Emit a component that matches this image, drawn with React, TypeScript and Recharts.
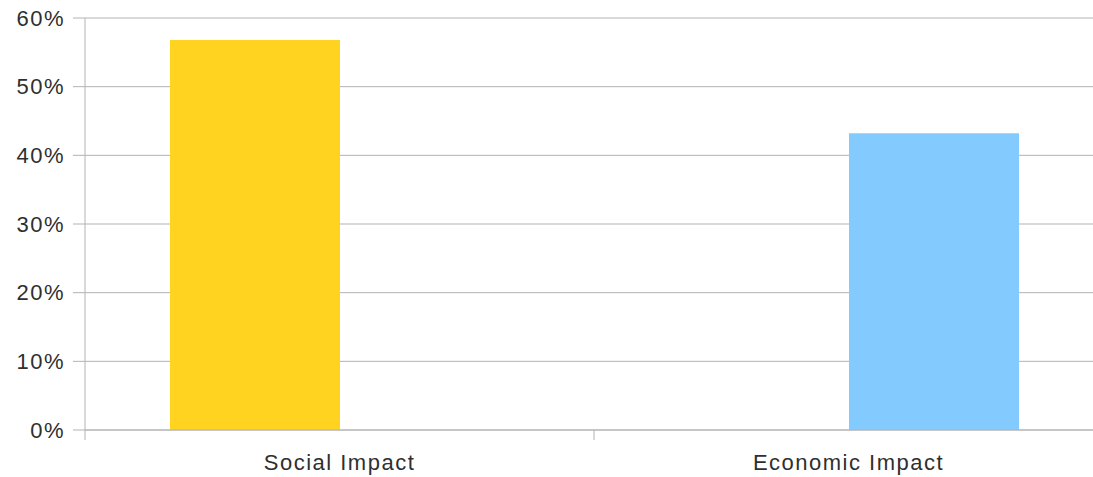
import { BarChart, Bar, XAxis, YAxis, CartesianGrid } from "recharts";

const categories = ["Social Impact", "Economic Impact"];
const socialValues = [56.8, 0];
const economicValues = [0, 43.2];
const yTicks = [0, 10, 20, 30, 40, 50, 60];

const data = categories.map((name, i) => ({
  name,
  social: socialValues[i],
  economic: economicValues[i],
}));

const gridColor = "#b3b3b3";
const textColor = "#2f2f2f";
const font = "'Liberation Sans', Arial, sans-serif";

// category label plus a boundary tick line on the left edge of each band
const CategoryTick = (props: any) => {
  const { x, y, payload, index } = props;
  const half = payload?.offset ?? 0;
  return (
    <g>
      <line x1={x - half} x2={x - half} y1={y - 10} y2={y} stroke={gridColor} />
      {index === categories.length - 1 && (
        <line x1={x + half} x2={x + half} y1={y - 10} y2={y} stroke={gridColor} />
      )}
      <text
        x={x}
        y={y + 14}
        dy="0.71em"
        textAnchor="middle"
        fill={textColor}
        fontSize={22}
        letterSpacing={1.5}
        fontFamily={font}
      >
        {payload.value}
      </text>
    </g>
  );
};

export default function App() {
  return (
    <div
      style={{
        position: "absolute",
        left: 0,
        top: 0,
        width: 1093,
        height: 477,
        overflow: "hidden",
        background: "#fff",
      }}
    >
      <BarChart
        width={1103}
        height={477}
        data={data}
        margin={{ top: 18, right: 0, bottom: 0, left: 0 }}
        barGap={0}
        barSize={170}
      >
        <CartesianGrid horizontal vertical={false} stroke={gridColor} />
        <XAxis
          dataKey="name"
          height={47}
          axisLine={{ stroke: gridColor }}
          tickLine={false}
          tickSize={10}
          tickMargin={0}
          interval={0}
          tick={<CategoryTick />}
        />
        <YAxis
          width={85}
          domain={[0, 60]}
          ticks={yTicks}
          tickFormatter={(v) => `${v}%`}
          axisLine={{ stroke: gridColor }}
          tickLine={{ stroke: gridColor }}
          tickSize={12}
          tickMargin={8}
          tick={{
            fill: textColor,
            fontSize: 22,
            letterSpacing: 1.5,
            fontFamily: font,
          }}
        />
        <Bar dataKey="social" fill="#ffd320" isAnimationActive={false} />
        <Bar dataKey="economic" fill="#83caff" isAnimationActive={false} />
      </BarChart>
    </div>
  );
}
